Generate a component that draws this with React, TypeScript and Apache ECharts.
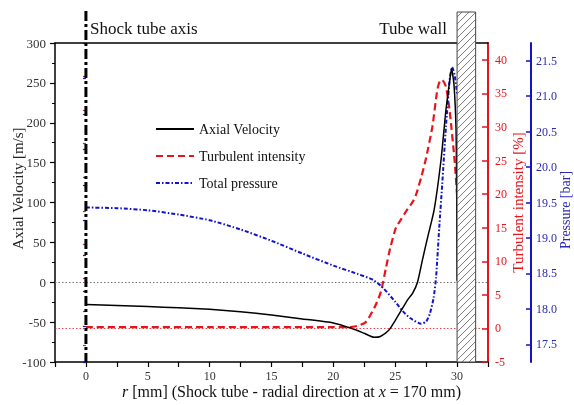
import React, { useEffect, useRef } from "react";
import * as echarts from "echarts";

// ---------- data ----------
const R_VEL = [0, 2.5, 5, 7.5, 10, 12.5, 15, 17.5, 20, 21.5, 22.5, 23.3, 23.8, 24.5, 25, 25.5, 26, 26.4, 26.8, 27.2, 27.6, 28.15, 28.7, 29.1, 29.4, 29.55, 29.75, 29.92, 29.97, 30];
const VEL = [-28, -29, -30.5, -32, -34, -37, -41, -46, -51, -58, -64, -69, -68, -60, -48, -35, -22, -14, 0, 28, 55, 91, 153, 216, 252, 268, 248, 190, 110, 2];

const R_TI = [0, 5, 10, 15, 20, 21.3, 22, 22.6, 23, 23.45, 23.85, 24.25, 24.6, 25.06, 25.5, 25.9, 26.4, 26.7, 27.1, 27.45, 28.0, 28.4, 28.6, 28.8, 29.1, 29.4, 29.8, 30];
const TI = [0.2, 0.2, 0.2, 0.2, 0.2, 0.2, 0.4, 0.9, 2, 3.6, 5.5, 9, 12, 15, 16.3, 17.5, 18.8, 20, 22.5, 25, 30, 35.5, 36.8, 37, 36, 32.4, 25, 20];

const R_P = [0, 2.5, 5, 7.5, 10, 12.5, 15, 17.5, 20, 22, 23.2, 24, 25, 25.6, 26.2, 27.1, 27.5, 27.8, 28.1, 28.3, 28.56, 28.8, 29.1, 29.4, 29.6, 29.8, 30];
const P = [19.43, 19.42, 19.39, 19.33, 19.25, 19.12, 18.96, 18.78, 18.61, 18.49, 18.41, 18.3, 18.1, 17.97, 17.87, 17.79, 17.82, 17.93, 18.15, 18.44, 19.15, 19.76, 20.57, 21.23, 21.41, 21.3, 21.04];

const X_LABELS = [0, 5, 10, 15, 20, 25, 30];
const X_TICKS = [-2.5, 0, 2.5, 5, 7.5, 10, 12.5, 15, 17.5, 20, 22.5, 25, 27.5, 30, 32.5];
const TI_LABELS = [-5, 0, 5, 10, 15, 20, 25, 30, 35, 40];
const TI_MINOR = [-2.5, 2.5, 7.5, 12.5, 17.5, 22.5, 27.5, 32.5, 37.5];
const P_LABELS = [17.5, 18.0, 18.5, 19.0, 19.5, 20.0, 20.5, 21.0, 21.5];
const P_MINOR = [17.25, 17.75, 18.25, 18.75, 19.25, 19.75, 20.25, 20.75, 21.25, 21.75];

const SERIES_NAMES = ["Axial Velocity", "Turbulent intensity", "Total pressure"];
const WALL = [30, 31.5];
const AXIS_R = 0;

const FONT = "Liberation Serif";
const RED = "#e8141c";
const BLUE = "#1212c8";

const pairs = (xs: number[], ys: number[]) => xs.map((x, i) => [x, ys[i]]);

export default function App() {
  const ref = useRef<HTMLDivElement>(null);
  useEffect(() => {
    const chart = echarts.init(ref.current!, null, { renderer: "svg" });
    const option: any = {
      animation: false,
      grid: { left: 55, right: 86, top: 43, bottom: 43, containLabel: false, outerBoundsMode: "none" },
      legend: {
        orient: "vertical",
        left: 150,
        top: 117,
        itemWidth: 38,
        itemHeight: 14,
        itemGap: 13,
        itemStyle: { opacity: 0 },
        textStyle: { fontFamily: FONT, fontSize: 14, color: "#111" },
        data: SERIES_NAMES,
      },
      xAxis: [
        {
          type: "value",
          min: -2.5,
          max: 32.5,
          position: "bottom",
          name: "{i|r} [mm] (Shock tube - radial direction at {i|x} = 170 mm)",
          nameLocation: "middle",
          nameGap: 21,
          nameMoveOverlap: false,
          nameTextStyle: {
            fontFamily: FONT,
            fontSize: 16,
            color: "#111",
            padding: [0, 0, 0, 40],
            rich: { i: { fontFamily: FONT, fontSize: 16, fontStyle: "italic", color: "#111" } },
          },
          axisLine: { onZero: false, lineStyle: { color: "#000", width: 1.5 } },
          axisTick: { customValues: X_TICKS, length: 5, lineStyle: { color: "#000", width: 1.2 } },
          axisLabel: { customValues: X_LABELS, fontFamily: FONT, fontSize: 12, color: "#333", margin: 8 },
          splitLine: { show: false },
        },
        {
          type: "value",
          min: -2.5,
          max: 32.5,
          position: "top",
          axisLine: { onZero: false, lineStyle: { color: "#000", width: 1.5 } },
          axisTick: { show: false },
          axisLabel: { show: false },
          splitLine: { show: false },
        },
      ],
      yAxis: [
        {
          type: "value",
          min: -100,
          max: 300,
          interval: 50,
          position: "left",
          name: "Axial Velocity [m/s]",
          nameLocation: "middle",
          nameRotate: 90,
          nameGap: 30,
          nameMoveOverlap: false,
          nameTextStyle: { fontFamily: FONT, fontSize: 15, color: "#222", padding: [0, 0, 0, 28] },
          axisLine: { onZero: false, lineStyle: { color: "#000", width: 1.5 } },
          axisTick: { length: 5, lineStyle: { color: "#000", width: 1.2 } },
          minorTick: { show: true, splitNumber: 2, length: 3, lineStyle: { color: "#000", width: 1 } },
          axisLabel: { fontFamily: FONT, fontSize: 13, color: "#333", margin: 9 },
          splitLine: { show: false },
        },
        {
          type: "value",
          min: -5,
          max: 42.5,
          position: "right",
          offset: 0,
          name: "Turbulent intensity [%]",
          nameLocation: "middle",
          nameRotate: 90,
          nameGap: 22,
          nameMoveOverlap: false,
          nameTextStyle: { fontFamily: FONT, fontSize: 15, color: RED },
          axisLine: { onZero: false, lineStyle: { color: RED, width: 2 } },
          axisTick: { customValues: TI_LABELS, inside: true, length: 6, lineStyle: { color: RED, width: 1.5 } },
          axisLabel: { customValues: TI_LABELS, fontFamily: FONT, fontSize: 12, color: RED, margin: 7 },
          splitLine: { show: false },
        },
        {
          type: "value",
          min: 17.25,
          max: 21.75,
          position: "right",
          offset: 43,
          name: "Pressure [bar]",
          nameLocation: "middle",
          nameRotate: 90,
          nameGap: 27,
          nameMoveOverlap: false,
          nameTextStyle: { fontFamily: FONT, fontSize: 14, color: "#2b2bb0", padding: [0, 15, 0, 0] },
          axisLine: { onZero: false, lineStyle: { color: BLUE, width: 2 } },
          axisTick: { customValues: P_LABELS, inside: true, length: 5, lineStyle: { color: BLUE, width: 1.5 } },
          axisLabel: {
            customValues: P_LABELS,
            fontFamily: FONT,
            fontSize: 12,
            color: "#2b2bb0",
            margin: 5,
            formatter: (v: number) => v.toFixed(1),
          },
          splitLine: { show: false },
        },
        {
          type: "value",
          min: -5,
          max: 42.5,
          position: "right",
          offset: 0,
          axisLine: { show: false },
          axisTick: { customValues: TI_MINOR, inside: true, length: 3, lineStyle: { color: RED, width: 1.2 } },
          axisLabel: { show: false },
          splitLine: { show: false },
        },
        {
          type: "value",
          min: 17.25,
          max: 21.75,
          position: "right",
          offset: 43,
          axisLine: { show: false },
          axisTick: { customValues: P_MINOR, inside: true, length: 3, lineStyle: { color: BLUE, width: 1.2 } },
          axisLabel: { show: false },
          splitLine: { show: false },
        },
      ],
      series: [
        {
          name: SERIES_NAMES[0],
          type: "line",
          xAxisIndex: 0,
          yAxisIndex: 0,
          data: pairs(R_VEL, VEL),
          symbol: "none",
          smooth: 0.2,
          lineStyle: { color: "#000", width: 1.5 },
          itemStyle: { color: "#000" },
          z: 3,
          markLine: {
            silent: true,
            symbol: "none",
            label: { show: false },
            lineStyle: { color: "#777", type: [1.5, 2], width: 1 },
            data: [{ yAxis: 0 }],
          },
        },
        {
          name: SERIES_NAMES[1],
          type: "line",
          xAxisIndex: 0,
          yAxisIndex: 1,
          data: pairs(R_TI, TI),
          symbol: "none",
          smooth: 0.2,
          lineStyle: { color: RED, width: 2.2, type: [7, 4] },
          itemStyle: { color: RED },
          z: 2,
          markLine: {
            silent: true,
            symbol: "none",
            label: { show: false },
            lineStyle: { color: RED, type: [1.5, 2], width: 0.8 },
            data: [{ yAxis: 0 }],
          },
        },
        {
          name: SERIES_NAMES[2],
          type: "line",
          xAxisIndex: 0,
          yAxisIndex: 2,
          data: pairs(R_P, P),
          symbol: "none",
          smooth: 0.2,
          lineStyle: { color: BLUE, width: 2, type: [4, 2, 1.5, 2] },
          itemStyle: { color: BLUE },
          z: 2,
        },
      ],
    };
    chart.setOption(option);

    const xPx = (r: number) => chart.convertToPixel({ xAxisIndex: 0 }, r) as number;
    const yBottom = chart.convertToPixel({ yAxisIndex: 0 }, -100) as number;
    const x0 = xPx(AXIS_R);
    const xw0 = xPx(WALL[0]);
    const xw1 = xPx(WALL[1]);
    const top = 12;
    const w = xw1 - xw0;
    const hatch: any[] = [];
    for (let yb = top + 5; yb < yBottom + w; yb += 7) {
      let xa = xw0, ya = yb, xb = xw1, yc = yb - w;
      if (ya > yBottom) { xa = xw0 + (ya - yBottom); ya = yBottom; }
      if (yc < top) { xb = xw1 - (top - yc); yc = top; }
      if (xb > xa) {
        hatch.push({
          type: "line",
          shape: { x1: xa, y1: ya, x2: xb, y2: yc },
          style: { stroke: "#555", lineWidth: 0.8 },
          z: 101,
        });
      }
    }
    chart.setOption({
      graphic: [
        {
          type: "rect",
          shape: { x: xw0, y: top, width: w, height: yBottom - top },
          style: { fill: "#fff", stroke: "#444", lineWidth: 1 },
          z: 100,
        },
        ...hatch,
        {
          type: "line",
          shape: { x1: x0, y1: 11, x2: x0, y2: yBottom },
          style: { stroke: "#000", lineWidth: 3, lineDash: [10, 3, 3, 3] },
          z: 102,
        },
        {
          type: "text",
          x: x0 + 4,
          y: 28,
          style: { text: "Shock tube axis", fontFamily: FONT, fontSize: 17, fill: "#111", verticalAlign: "middle", align: "left" },
          z: 102,
        },
        {
          type: "text",
          x: xw0 - 10,
          y: 28,
          style: { text: "Tube wall", fontFamily: FONT, fontSize: 17, fill: "#111", verticalAlign: "middle", align: "right" },
          z: 102,
        },
      ],
    });
    return () => chart.dispose();
  }, []);
  return <div ref={ref} style={{ position: "fixed", left: 0, top: 0, width: 574, height: 405 }} />;
}
